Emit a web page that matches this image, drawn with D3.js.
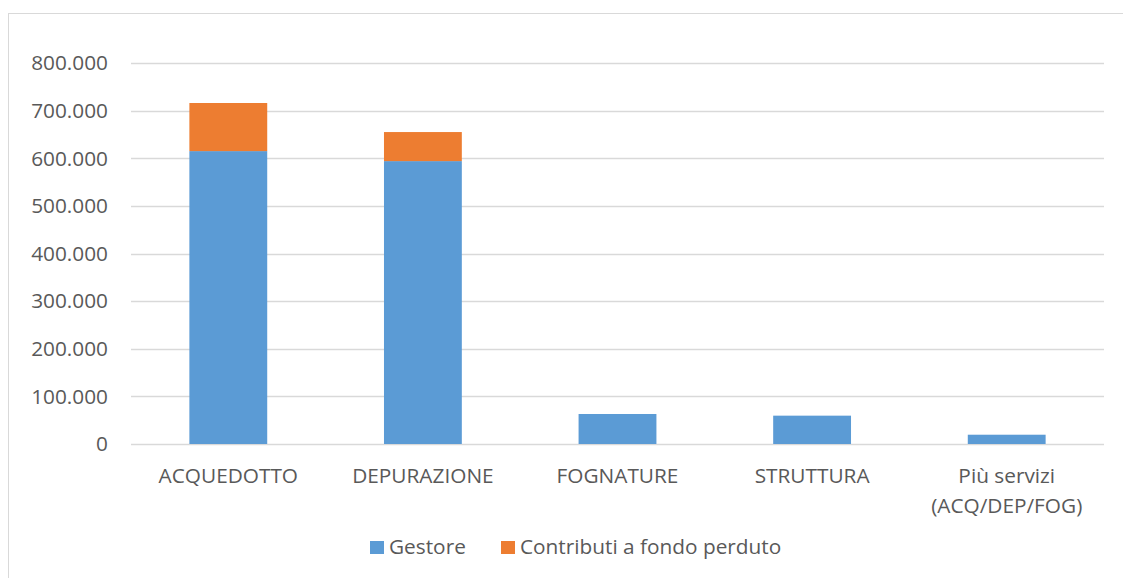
<!DOCTYPE html>
<html><head><meta charset="utf-8">
<script src="https://cdn.jsdelivr.net/npm/d3@7"></script>
<style>body{margin:0;background:#fff}svg{display:block}text{font-family:"Open Sans",sans-serif;fill:#595959}</style>
</head><body><svg id="c" width="1123" height="578"></svg>
<script>
const categories = ["ACQUEDOTTO","DEPURAZIONE","FOGNATURE","STRUTTURA","Più servizi\n(ACQ/DEP/FOG)"];
const gestore = [615000, 594000, 63000, 59500, 19500];
const contributi = [101000, 61000, 0, 0, 0];
const seriesNames = ["Gestore","Contributi a fondo perduto"];
const yTicks = [0,100000,200000,300000,400000,500000,600000,700000,800000];
const colors = ["#5B9BD5","#ED7D31"];

const FS = 20.8;
const svg = d3.select("#c");
svg.append("rect").attr("x",8.5).attr("y",13.5).attr("width",1130).attr("height",600)
  .attr("fill","#fff").attr("stroke","#D9D9D9").attr("stroke-width",1);

const pL=131, pR=1104, pT=63, pB=444;
const x = d3.scaleBand().domain(categories).range([pL,pR]).padding(0);
const y = d3.scaleLinear().domain([0,800000]).range([pB,pT]);
const fmt = d => d3.format(",")(d).replace(/,/g,".");

svg.append("g").selectAll("line").data(yTicks).join("line")
  .attr("x1",pL).attr("x2",pR).attr("y1",d=>Math.round(y(d))+0.5).attr("y2",d=>Math.round(y(d))+0.5)
  .attr("stroke","#D9D9D9").attr("stroke-width",1.5);
svg.append("g").selectAll("text").data(yTicks).join("text")
  .attr("x",108).attr("y",d=>y(d)).attr("dy","0.35em").attr("text-anchor","end")
  .attr("font-size",FS).text(fmt);

const stack = d3.stack().keys([0,1]).value((d,k)=>d[k+1]);
const rows = categories.map((c,i)=>[c,gestore[i],contributi[i]]);
const stacked = stack(rows);
const bw = x.bandwidth()*0.4;
stacked.forEach((s,k)=>{
  svg.append("g").selectAll("rect").data(s.filter(d=>d[1]>d[0])).join("rect")
    .attr("x",d=>x(d.data[0])+x.bandwidth()/2-bw/2).attr("width",bw)
    .attr("y",d=>y(d[1])).attr("height",d=>y(d[0])-y(d[1]))
    .attr("fill",colors[k]);
});

svg.append("g").selectAll("text").data(categories).join("text")
  .attr("text-anchor","middle").attr("font-size",FS)
  .attr("transform",d=>`translate(${x(d)+x.bandwidth()/2},483)`)
  .each(function(d){
    const t=d3.select(this);
    d.split("\n").forEach((l,i)=>t.append("tspan").attr("x",0).attr("y",i*30).text(l));
  });

const lg = svg.append("g");
const lx=[370,501];
seriesNames.forEach((n,i)=>{
  lg.append("rect").attr("x",lx[i]).attr("y",541).attr("width",14).attr("height",13).attr("fill",colors[i]);
  lg.append("text").attr("x",lx[i]+19).attr("y",554).attr("font-size",FS).text(n);
});
</script></body></html>
